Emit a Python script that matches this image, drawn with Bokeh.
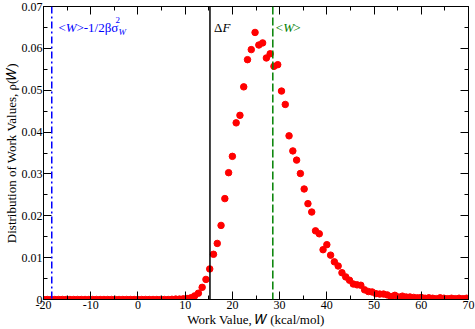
from bokeh.plotting import figure
from bokeh.models import Span, Label, LinearAxis, FixedTicker
from bokeh.embed import file_html
from bokeh.resources import INLINE

# ---- data ----
w_values = [-20.0, -19.2, -18.4, -17.6, -16.8, -16.0, -15.2, -14.4, -13.6, -12.8,
            -12.0, -11.2, -10.4, -9.6, -8.8, -8.0, -7.2, -6.4, -5.6, -4.8,
            -4.0, -3.2, -2.4, -1.6, -0.8, 0.0, 0.8, 1.6, 2.4, 3.2,
            4.0, 4.8, 5.6, 6.4, 7.2, 8.0, 8.8, 9.6, 10.4, 11.2,
            12.0, 12.8, 13.6, 14.4, 15.2, 16.0, 16.8, 17.6, 18.4, 19.2,
            20.0, 20.8, 21.6, 22.4, 23.2, 24.0, 24.8, 25.6, 26.4, 27.2,
            28.0, 28.8, 29.6, 30.4, 31.2, 32.0, 32.8, 33.6, 34.4, 35.2,
            36.0, 36.8, 37.6, 38.4, 39.2, 40.0, 40.8, 41.6, 42.4, 43.2,
            44.0, 44.8, 45.6, 46.4, 47.2, 48.0, 48.8, 49.6, 50.4, 51.2,
            52.0, 52.8, 53.6, 54.4, 55.2, 56.0, 56.8, 57.6, 58.4, 59.2,
            60.0, 60.8, 61.6, 62.4, 63.2, 64.0, 64.8, 65.6, 66.4, 67.2,
            68.0, 68.8, 69.6]
rho_values = [0.0, 0.0, 0.0, 0.0, 0.0, 0.0, 0.0, 0.0, 0.0, 0.0,
              0.0, 0.0, 0.0, 0.0, 0.0, 0.0, 0.0, 0.0, 0.0, 0.0,
              0.0, 0.0, 0.0, 0.0, 0.0, 0.0, 0.0, 0.0, 0.0, 0.0,
              0.0, 0.0, 0.0, 0.0, 0.00005, 0.0001, 0.0001, 0.00015, 0.00024, 0.0004,
              0.00086, 0.0015, 0.0029, 0.0048, 0.0073, 0.0108, 0.0134, 0.0177, 0.0241, 0.0303,
              0.0342, 0.0422, 0.0440, 0.0508, 0.0573, 0.0597, 0.0638, 0.0608, 0.0613, 0.0577,
              0.0587, 0.0557, 0.0561, 0.0498, 0.0466, 0.0391, 0.0355, 0.0333, 0.0301, 0.0264,
              0.0229, 0.0209, 0.0164, 0.0157, 0.0119, 0.0131, 0.0106, 0.0090, 0.0080, 0.0064,
              0.0054, 0.0046, 0.0037, 0.0035, 0.0034, 0.0023, 0.0019, 0.0018, 0.0014, 0.0013,
              0.0013, 0.0011, 0.0007, 0.0010, 0.0006, 0.0008, 0.0006, 0.0006, 0.0005, 0.0004,
              0.0005, 0.0003, 0.0004, 0.0003, 0.0002, 0.0004, 0.0003, 0.0002, 0.0003, 0.0002,
              0.0003, 0.0002, 0.0003]

x_ticks = [-20, -10, 0, 10, 20, 30, 40, 50, 60, 70]
x_minor_ticks = [-15, -5, 5, 15, 25, 35, 45, 55, 65]
x_tick_labels = ["-20", "-10", "0", "10", "20", "30", "40", "50", "60", "70"]
y_ticks = [0, 0.01, 0.02, 0.03, 0.04, 0.05, 0.06, 0.07]
y_minor_ticks = [0.005, 0.015, 0.025, 0.035, 0.045, 0.055, 0.065]
y_tick_labels = ["0", "0.01", "0.02", "0.03", "0.04", "0.05", "0.06", "0.07"]
x_title = "Work Value, \U0001D44A (kcal/mol)"
y_title = "Distribution of Work Values, \u03c1(\U0001D44A)"

mean_W_minus_fluct = -18.25   # <W> - 1/2 beta sigma_W^2
delta_F = 15.25               # Delta F
mean_W = 28.56                # <W>

FONT = "Liberation Serif"

p = figure(width=475, height=329, x_range=(-20, 70), y_range=(0, 0.07),
           output_backend="svg", toolbar_location=None,
           x_axis_location=None, y_axis_location=None,
           min_border_left=40, min_border_right=7,
           min_border_top=6, min_border_bottom=29)
p.grid.visible = False
p.outline_line_color = "black"
p.background_fill_color = "white"
p.border_fill_color = "white"


def make_axis(ticks, minor, labels, show, title=None):
    ax = LinearAxis(ticker=FixedTicker(ticks=ticks, minor_ticks=minor))
    ax.major_label_overrides = {t: l for t, l in zip(ticks, labels)}
    ax.axis_line_color = "black"
    ax.axis_line_width = 1
    ax.major_tick_in = 8
    ax.major_tick_out = 0
    ax.minor_tick_in = 4
    ax.minor_tick_out = 0
    ax.major_tick_line_color = "black"
    ax.minor_tick_line_color = "black"
    ax.major_label_text_font = FONT
    ax.major_label_text_font_size = "12px"
    if show:
        ax.major_label_text_color = "black"
        ax.major_label_standoff = 1
    else:
        ax.major_label_text_color = None
        ax.major_label_standoff = 0
    if title is not None:
        ax.axis_label = title
        ax.axis_label_text_font = FONT
        ax.axis_label_text_font_size = "13px"
        ax.axis_label_text_font_style = "normal"
        ax.axis_label_text_color = "black"
        ax.axis_label_standoff = 0
    return ax


p.add_layout(make_axis(x_ticks, x_minor_ticks, x_tick_labels, True, x_title), "below")
p.add_layout(make_axis(x_ticks, x_minor_ticks, x_tick_labels, False), "above")
p.add_layout(make_axis(y_ticks, y_minor_ticks, y_tick_labels, True, y_title), "left")
p.add_layout(make_axis(y_ticks, y_minor_ticks, y_tick_labels, False), "right")

# vertical reference lines
p.add_layout(Span(location=mean_W_minus_fluct, dimension="height", line_color="#0000ff",
                  line_width=1.5, line_dash="7 3 2 3"))
p.add_layout(Span(location=delta_F, dimension="height", line_color="black", line_width=1.5))
p.add_layout(Span(location=mean_W, dimension="height", line_color="#008000",
                  line_width=1.5, line_dash="8 3"))

# data points
p.scatter(w_values, rho_values, marker="circle", size=6.5, fill_color="red",
          line_color="red")


def lab(x, y, text, color="black", size="13px", style="normal", xo=0, yo=0):
    p.add_layout(Label(x=x, y=y, text=text, text_color=color,
                       text_font=FONT, text_font_size=size, text_font_style=style,
                       text_align="left", text_baseline="alphabetic",
                       x_offset=xo, y_offset=yo))


# blue annotation  <W>-1/2βσ²_W
bx, by = -16.85, 0.0649
blue = "#0000ff"
lab(bx, by, "<", blue)
lab(bx, by, "W", blue, style="italic", xo=7.3)
lab(bx, by, ">-1/2βσ", blue, xo=18)
lab(bx, by, "2", blue, size="9px", xo=57, yo=8)
lab(bx, by, "W", blue, size="9px", style="italic", xo=60, yo=-4)

# Delta F annotation
lab(16.1, 0.0650, "Δ", "black")
lab(16.1, 0.0650, "F", "black", style="italic", xo=8.5)

# <W> annotation
gx = 29.2
green = "#008000"
lab(gx, 0.0651, "<", green)
lab(gx, 0.0651, "W", green, style="italic", xo=7.3)
lab(gx, 0.0651, ">", green, xo=17.5)

open("out.html", "w").write(file_html(p, INLINE))
